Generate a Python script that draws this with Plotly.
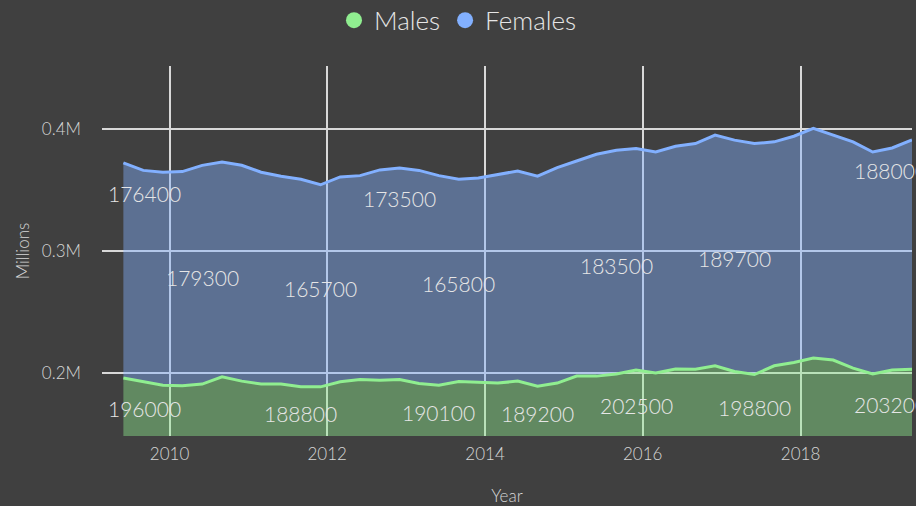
import pandas as pd
import plotly.graph_objects as go

# ---- data ----
dates = pd.date_range("2009-06-01", periods=41, freq="3MS")
males = [196000, 193100, 190100, 189600, 191000, 197000, 193400, 191000, 191000, 188800,
         188700, 192800, 194700, 194200, 194700, 191500, 190100, 193100, 192300, 191800,
         193400, 189200, 191800, 197500, 197500, 199200, 202500, 200000, 203300, 203100,
         206000, 201300, 198800, 206000, 208700, 212300, 210700, 204100, 199200, 202500,
         203200]
females = [176400, 173100, 174600, 175600, 179300, 176100, 177000, 173700, 170400, 170100,
           165700, 168000, 167200, 172400, 173500, 174700, 171800, 165800, 167700, 171200,
           172300, 172200, 176700, 176400, 181900, 183500, 181600, 181300, 182700, 185100,
           189100, 189700, 189400, 183600, 185500, 188300, 184400, 185500, 182100, 182100,
           188000]
series_names = ["Males", "Females"]
male_label_idx = [0, 9, 16, 21, 26, 32, 40]
female_label_idx = [0, 4, 10, 14, 17, 25, 31, 40]
female_mid_band = [False, True, True, False, True, True, True, False]
y_tickvals = [200000, 300000, 400000]
y_ticktext = ["0.2M", "0.3M", "0.4M"]
y_range = [148400, 451800]
x_range = ["2009-02-22", "2019-06-01"]

# ---- style ----
BG = "#404040"
GREEN = "#90ee90"
BLUE = "#82b0ff"
GREEN_FILL = "rgba(144,238,144,0.42)"
BLUE_FILL = "rgba(130,176,255,0.43)"
FONT = "Lato"
TXT = "#d6d6d6"

fig = go.Figure()
fig.add_trace(go.Scatter(x=dates, y=males, name=series_names[0], mode="lines",
                         stackgroup="one", line=dict(color=GREEN, width=3),
                         fillcolor=GREEN_FILL, showlegend=False))
fig.add_trace(go.Scatter(x=dates, y=females, name=series_names[1], mode="lines",
                         stackgroup="one", line=dict(color=BLUE, width=3),
                         fillcolor=BLUE_FILL, showlegend=False))
# legend-only markers
for nm, col in zip(series_names, [GREEN, BLUE]):
    fig.add_trace(go.Scatter(x=[None], y=[None], name=nm, mode="markers",
                             marker=dict(color=col, size=20, symbol="circle")))

lab_font = dict(family=FONT, size=21, color="#e6e6e6", weight=300)
n = len(dates)

def edge_shift(i):
    if i == 0:
        return 21
    if i == n - 1:
        return -22
    return 0

# male labels: centred in the band below the male line
for i in male_label_idx:
    fig.add_annotation(x=dates[i], y=(males[i] + y_range[0]) / 2, text=str(males[i]),
                       showarrow=False, font=lab_font, xshift=edge_shift(i), yshift=-2)
# female labels
for i, mid in zip(female_label_idx, female_mid_band):
    tot = males[i] + females[i]
    if mid:
        y, ys = males[i] + females[i] / 2, -3
    else:
        y, ys = tot, -31
    fig.add_annotation(x=dates[i], y=y, text=str(females[i]), showarrow=False,
                       font=lab_font, xshift=edge_shift(i), yshift=ys)

fig.update_layout(
    width=916, height=506,
    paper_bgcolor=BG, plot_bgcolor=BG,
    margin=dict(l=102, r=4, t=66, b=70),
    font=dict(family=FONT, color=TXT, weight=300),
    legend=dict(orientation="h", xref="container", yref="container", traceorder="normal",
                x=0.5, xanchor="center", y=0.96, yanchor="middle",
                font=dict(family=FONT, size=26, color="#e6e6e6", weight=300),
                bgcolor="rgba(0,0,0,0)"),
    xaxis=dict(type="date", range=x_range, dtick="M24", tick0="2010-01-01",
               tickformat="%Y", showgrid=True, gridcolor="#d8d8d8", gridwidth=2,
               zeroline=False, showline=False, ticklabelstandoff=6,
               tickfont=dict(family=FONT, size=17, color=TXT, weight=300),
               title=dict(text="Year", font=dict(family=FONT, size=17, color=TXT, weight=300),
                          standoff=28),
               automargin=False),
    yaxis=dict(range=y_range, tickvals=y_tickvals, ticktext=y_ticktext,
               showgrid=True, gridcolor="#d8d8d8", gridwidth=2,
               zeroline=False, showline=False, ticklabelstandoff=20,
               tickfont=dict(family=FONT, size=17, color=TXT, weight=300),
               title=dict(text="Millions", font=dict(family=FONT, size=17, color=TXT, weight=300),
                          standoff=7),
               automargin=False),
    hovermode=False,
)

fig.write_html("out.html", config={"displayModeBar": False},
               post_script="document.body.style.margin='0';")
